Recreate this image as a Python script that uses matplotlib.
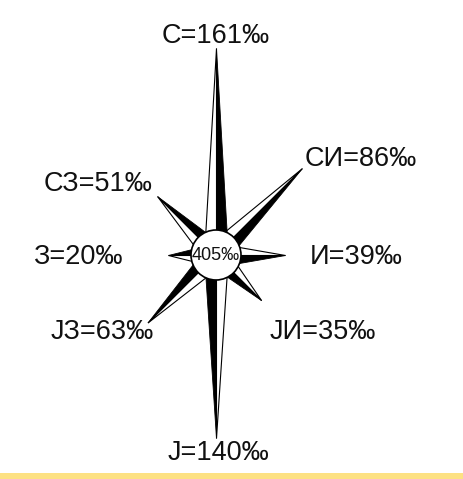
import numpy as np
import matplotlib
matplotlib.use("Agg")
import matplotlib.pyplot as plt
from matplotlib.patches import Polygon, Circle, Rectangle

plt.rcParams['font.family'] = ['Liberation Sans', 'DejaVu Sans']

# wind rose data (per mille)
directions = ["С", "СИ", "И", "ЈИ", "Ј", "ЈЗ", "З", "СЗ"]
angles = [0, 45, 90, 135, 180, 225, 270, 315]   # clockwise from north
values = [161, 86, 39, 35, 140, 63, 20, 51]
total = 405

W, H = 464, 479
CX, CY = 216, 224          # rose centre (pixels, y up)
R0 = 25                    # centre circle radius
K = 1.13                   # pixels per mille
HW = 12                    # half-width of a spike at the centre

# label placement relative to spike tip: (dx, dy, ha)
label_pos = {
    0: (0, 12, "center"), 45: (2, 10, "left"), 90: (25, -2, "left"),
    135: (8, -31, "left"), 180: (2, -15, "center"), 225: (6, -9, "right"),
    270: (-46, -2, "right"), 315: (-5, 13, "right"),
}

fig = plt.figure(figsize=(W / 100, H / 100), dpi=100)
ax = fig.add_axes([0, 0, 1, 1])
ax.set_xlim(0, W)
ax.set_ylim(0, H)
ax.set_aspect("equal")
ax.axis("off")

# intercardinal spikes first, cardinal ones on top
order = [1, 3, 5, 7, 0, 2, 4, 6]
for i in order:
    a = np.radians(angles[i])
    d = np.array([np.sin(a), np.cos(a)])
    cw = np.array([np.cos(a), -np.sin(a)])
    c = np.array([CX, CY])
    L = R0 + K * values[i]
    tip = c + L * d
    white = Polygon([tip, c, c - HW * cw], closed=True, facecolor="white",
                    edgecolor="black", lw=0.8, zorder=2)
    black = Polygon([tip, c, c + HW * cw], closed=True, facecolor="black",
                    edgecolor="black", lw=0.6, zorder=2)
    ax.add_patch(white)
    ax.add_patch(black)
    dx, dy, ha = label_pos[angles[i]]
    ax.text(tip[0] + dx, tip[1] + dy, "%s=%d‰" % (directions[i], values[i]),
            ha=ha, va="center", fontsize=19.5, color="#111111", zorder=4)

ax.add_patch(Circle((CX, CY), R0, facecolor="white", edgecolor="black",
                    lw=1.2, zorder=3))
ax.text(CX, CY - 1, "%d‰" % total, ha="center", va="center", fontsize=13,
        color="#111111", zorder=4)

# yellow strip along the bottom
ax.add_patch(Rectangle((0, 0), W, 6, facecolor="#FDE183", edgecolor="none",
                       zorder=1))

fig.savefig("out.png", dpi=100)
